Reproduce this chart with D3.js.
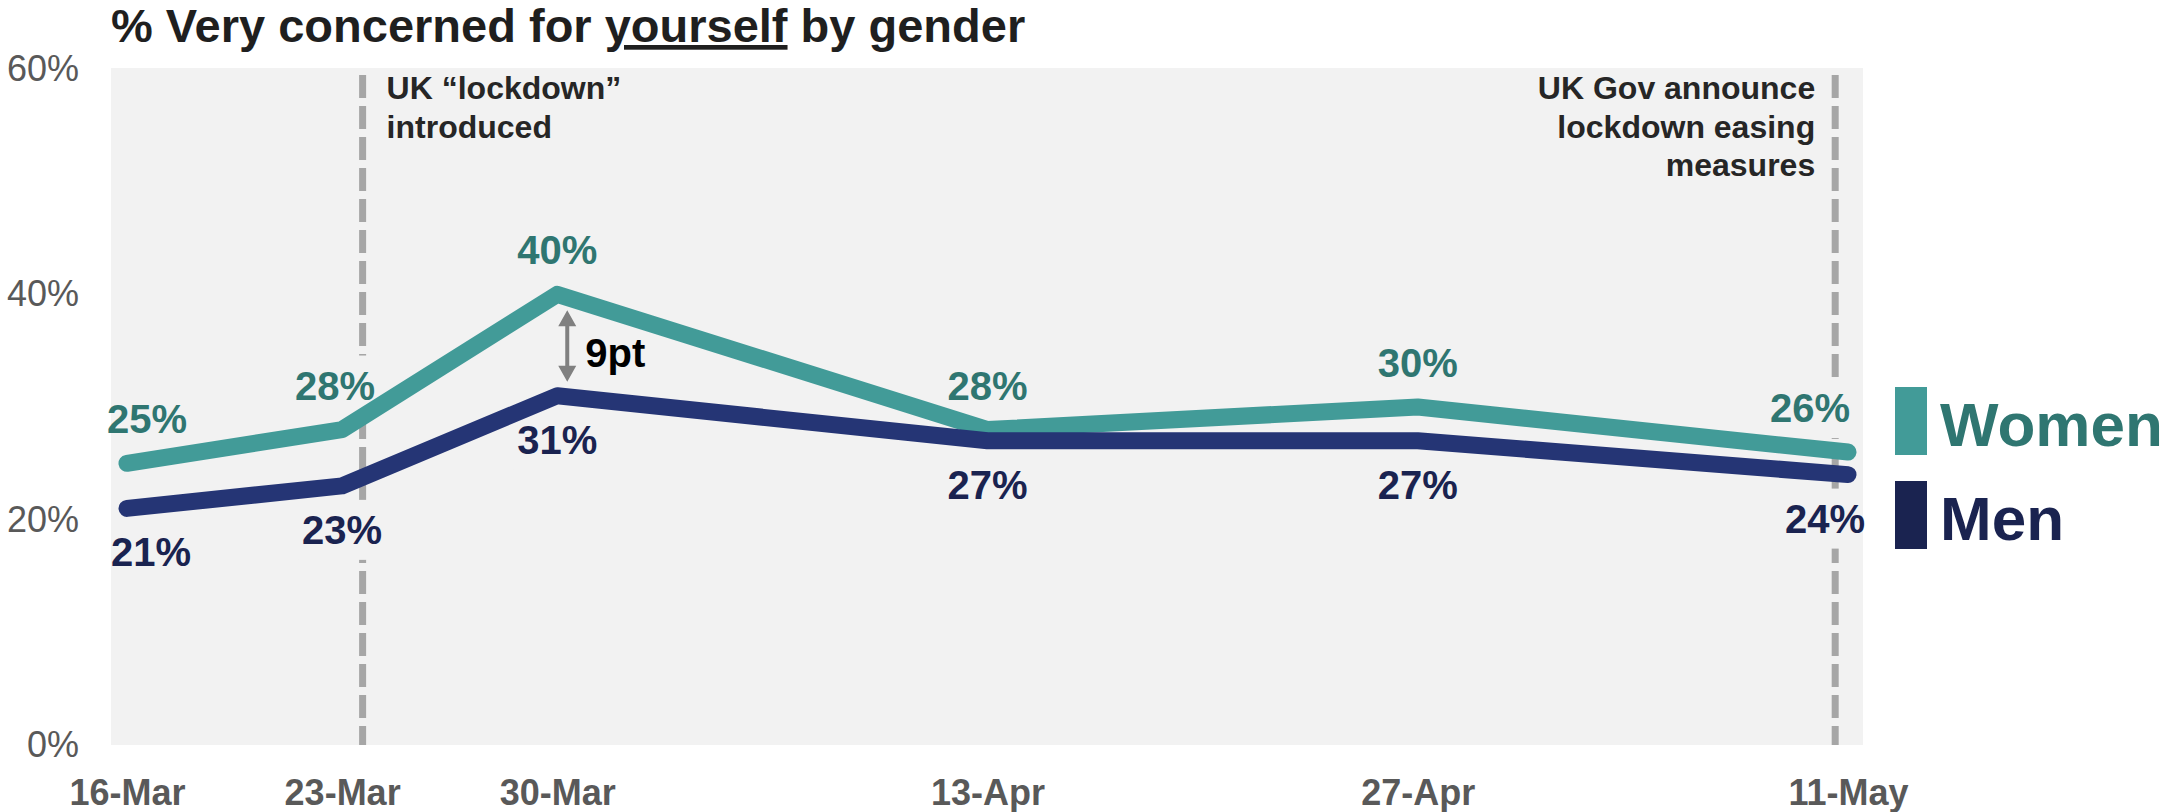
<!DOCTYPE html>
<html>
<head>
<meta charset="utf-8">
<script src="https://cdn.jsdelivr.net/npm/d3@7"></script>
<style>
  html, body { margin: 0; padding: 0; background: #fff; }
  svg { display: block; font-family: Arial, "Liberation Sans", sans-serif; }
</style>
</head>
<body>
<svg id="chart" width="2167" height="812"></svg>
<script>
// data
const dates = ["2020-03-16", "2020-03-23", "2020-03-30", "2020-04-13", "2020-04-27", "2020-05-11"];
const tickLabels = ["16-Mar", "23-Mar", "30-Mar", "13-Apr", "27-Apr", "11-May"];
const women = [25, 28, 40, 28, 30, 26];
const men = [21, 23, 31, 27, 27, 24];
const yTicks = [0, 20, 40, 60];
const seriesNames = ["Women", "Men"];
const markerDates = ["2020-03-23T16:00", "2020-05-10T14:00"];
const markerNotes = [["UK \u201Clockdown\u201D", "introduced"], ["UK Gov announce", "lockdown easing", "measures"]];
const gapLabel = "9pt";

const parse = d3.utcParse("%Y-%m-%d");
const parseT = d3.utcParse("%Y-%m-%dT%H:%M");
const xDates = dates.map(parse);

const svg = d3.select("#chart");

const BG = "#f2f2f2";
const WOMEN_LINE = "#429b98", WOMEN_TEXT = "#2f7671";
const MEN_LINE = "#253575", MEN_TEXT = "#1a2350";

// scales
const x = d3.scaleUtc()
  .domain([xDates[0], xDates[xDates.length - 1]])
  .range([127, 1848]);
const y = d3.scaleLinear().domain([0, 60]).range([745, 69]);

const PLOT_L = 111, PLOT_R = 1863;

// plot background
svg.append("rect")
  .attr("x", PLOT_L).attr("y", y(60) - 1)
  .attr("width", PLOT_R - PLOT_L).attr("height", y(0) - y(60) + 1)
  .attr("fill", BG);

svg.append("clipPath").attr("id", "plotclip")
  .append("rect")
  .attr("x", PLOT_L).attr("y", y(60) - 1)
  .attr("width", PLOT_R - PLOT_L).attr("height", y(0) - y(60) + 1);

// title
let title = svg.append("text")
  .attr("x", 111).attr("y", 42)
  .attr("font-size", 47).attr("font-weight", "bold")
  .attr("fill", "#1f1f1f");
title.append("tspan").text("% Very concerned for ");
title.append("tspan").text("yourself").style("text-decoration", "underline");
title.append("tspan").text(" by gender");

// y axis
let yAxis = svg.append("g")
  .attr("transform", `translate(${PLOT_L},0)`)
  .call(d3.axisLeft(y).tickValues(yTicks).tickFormat(d => d + "%").tickSize(0).tickPadding(32));
yAxis.select(".domain").remove();
yAxis.selectAll("text")
  .attr("font-size", 36).attr("fill", "#595959")
  .attr("font-family", "Arial, 'Liberation Sans', sans-serif");

// x axis
let xAxis = svg.append("g")
  .attr("transform", `translate(0,${y(0)})`)
  .call(d3.axisBottom(x).tickValues(xDates).tickFormat((d, i) => tickLabels[i]).tickSize(0).tickPadding(34));
xAxis.select(".domain").remove();
xAxis.selectAll("text")
  .attr("font-size", 36).attr("font-weight", "bold").attr("fill", "#595959")
  .attr("font-family", "Arial, 'Liberation Sans', sans-serif");

// dashed event markers
svg.selectAll(".marker")
  .data(markerDates)
  .enter()
  .append("line")
  .attr("class", "marker")
  .attr("x1", d => x(parseT(d))).attr("x2", d => x(parseT(d)))
  .attr("y1", 75).attr("y2", y(0))
  .attr("stroke", "#a6a6a6").attr("stroke-width", 7)
  .attr("stroke-dasharray", "23,8");

// marker notes
markerNotes.forEach((lines, i) => {
  const mx = x(parseT(markerDates[i]));
  const left = i === 0;
  let t = svg.append("text")
    .attr("font-size", 32).attr("font-weight", "bold").attr("fill", "#262626")
    .attr("text-anchor", left ? "start" : "end");
  lines.forEach((s, j) => {
    t.append("tspan")
      .attr("x", left ? mx + 24 : mx - 20)
      .attr("y", 99 + j * 38.5)
      .text(s);
  });
});

const series = [
  { name: seriesNames[0], values: women, stroke: WOMEN_LINE, text: WOMEN_TEXT, dy: -30 },
  { name: seriesNames[1], values: men, stroke: MEN_LINE, text: MEN_TEXT, dy: 58 }
];

// label boxes go under the lines, above the dashed markers
const boxLayer = svg.append("g").attr("clip-path", "url(#plotclip)");
const lineLayer = svg.append("g");
const labelLayer = svg.append("g");

// lines
const line = d3.line()
  .x((d, i) => x(xDates[i]))
  .y(d => y(d));

lineLayer.selectAll(".series")
  .data(series)
  .enter()
  .append("path")
  .attr("class", "series")
  .attr("d", d => line(d.values))
  .attr("fill", "none")
  .attr("stroke", d => d.stroke)
  .attr("stroke-width", 17)
  .attr("stroke-linecap", "round")
  .attr("stroke-linejoin", "round");

// gap arrow at 30-Mar
const ax = x(xDates[2]) + 10;
const ay1 = y(women[2]) + 16, ay2 = y(men[2]) - 14;
labelLayer.append("line")
  .attr("x1", ax).attr("x2", ax)
  .attr("y1", ay1 + 12).attr("y2", ay2 - 12)
  .attr("stroke", "#808080").attr("stroke-width", 4);
labelLayer.append("path")
  .attr("d", `M${ax},${ay1} L${ax - 9},${ay1 + 16} L${ax + 9},${ay1 + 16} Z M${ax},${ay2} L${ax - 9},${ay2 - 16} L${ax + 9},${ay2 - 16} Z`)
  .attr("fill", "#808080");
labelLayer.append("text")
  .attr("x", ax + 18).attr("y", (ay1 + ay2) / 2 + 21)
  .attr("font-size", 40).attr("font-weight", "bold").attr("fill", "#000")
  .text(gapLabel);

// data labels
const nudge = { "Women": [20, -7, 0, 0, 0, -38], "Men": [24, 0, 0, 0, 0, -23] };
series.forEach(s => {
  s.values.forEach((v, i) => {
    let t = labelLayer.append("text")
      .attr("x", x(xDates[i]) + nudge[s.name][i])
      .attr("y", y(v) + s.dy)
      .attr("text-anchor", "middle")
      .attr("font-size", 40).attr("font-weight", "bold")
      .attr("fill", s.text)
      .text(v + "%");
    let bb = t.node().getBBox();
    boxLayer.append("rect")
      .attr("x", bb.x - 4).attr("y", bb.y - 8)
      .attr("width", bb.width + 8).attr("height", bb.height + 16)
      .attr("fill", BG);
  });
});

// legend
let legend = svg.selectAll(".legend")
  .data(series)
  .enter()
  .append("g")
  .attr("class", "legend")
  .attr("transform", (d, i) => `translate(1895,${387 + i * 94})`);
legend.append("rect")
  .attr("width", 32).attr("height", 68)
  .attr("fill", (d, i) => i === 0 ? WOMEN_LINE : MEN_TEXT);
legend.append("text")
  .attr("x", 45).attr("y", 59)
  .attr("font-size", 62).attr("font-weight", "bold")
  .attr("fill", d => d.text)
  .text(d => d.name);
</script>
</body>
</html>
